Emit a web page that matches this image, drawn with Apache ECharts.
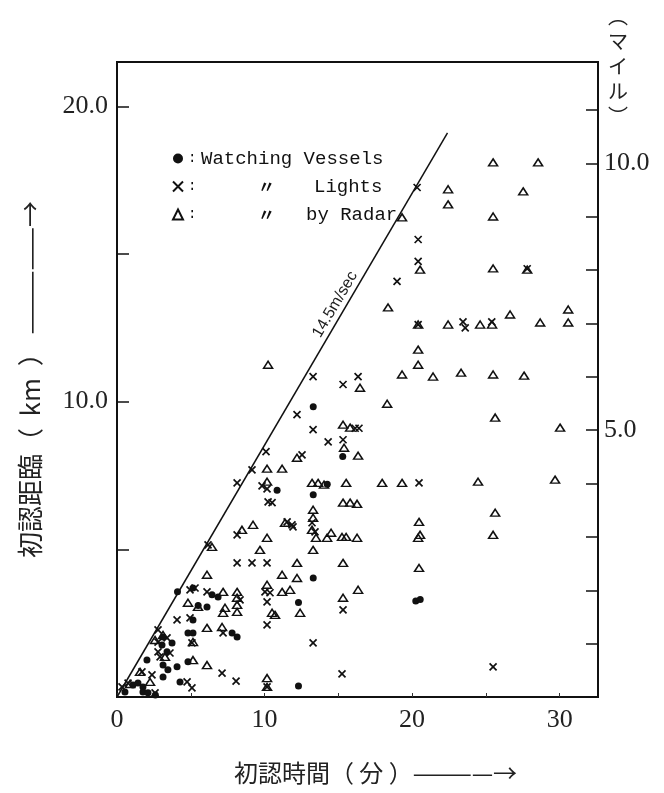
<!DOCTYPE html>
<html><head><meta charset="utf-8">
<script src="https://cdn.jsdelivr.net/npm/echarts@6/dist/echarts.min.js"></script>
<style>html,body{margin:0;padding:0;background:#fff}#c{width:664px;height:793px}</style>
</head><body><div id="c"></div>
<script>
// ---- data (x: minutes, y: km) ----
const seriesNames = ['Watching Vessels', 'Lights', 'by Radar'];
const xTickLabels = ['0', '10', '20', '30'];
const yTickLabels = ['10.0', '20.0'];
const rightTickLabels = ['5.0', '10.0'];
const speedLine = [[0, 0], [22.4, 19.1]];
const speedLabel = '14.5m/sec';

const watchingVessels = [
  [4.1,3.56],[5.15,3.69],[6.44,3.46],[6.85,3.39],[6.1,3.05],[5.5,3.1],
  [5.15,2.61],[7.8,2.17],[8.14,2.03],[4.81,2.17],[5.15,2.17],
  [3.12,2.03],[3.73,1.83],[3.05,1.76],[3.39,1.53],[2.03,1.25],[4.81,1.19],[3.12,1.08],[4.07,1.02],[3.45,0.92],
  [3.12,0.68],[4.27,0.51],[1.08,0.41],[1.42,0.47],[1.76,0.34],[0.54,0.17],[1.76,0.17],[2.1,0.14],[2.6,0.07],
  [10.85,7.0],[13.3,9.83],[15.3,8.14],[13.3,6.85],[14.25,7.2],[13.3,4.03],[12.3,3.2],[12.3,0.37],[20.25,3.25],[20.55,3.3]
];

const lights = [
  [20.34,17.25],[20.41,15.49],[20.41,14.75],[18.98,14.07],[20.41,12.61],[23.45,12.7],[23.6,12.5],[25.4,12.7],[27.8,14.5],
  [16.34,10.85],[13.29,10.85],[15.32,10.58],[12.2,9.56],[13.29,9.05],[16.14,9.1],[16.4,9.1],[14.31,8.64],[15.32,8.71],
  [10.1,8.31],[12.54,8.2],[9.15,7.69],[8.14,7.25],[9.83,7.15],[10.17,7.05],[20.47,7.25],[10.24,6.61],[10.51,6.58],
  [11.53,5.93],[11.86,5.83],[11.93,5.76],[13.22,5.9],[13.42,5.59],[6.17,5.15],[8.14,5.49],
  [8.14,4.54],[9.15,4.54],[10.17,4.54],[10.03,3.56],[10.37,3.53],[8.34,3.29],[10.17,3.22],[10.17,2.44],
  [15.32,2.95],[13.29,1.83],[15.25,0.78],[25.49,1.02],[7.12,0.81],[8.07,0.54],[10.17,0.34],
  [4.95,3.63],[5.29,3.69],[6.1,3.56],[4.07,2.61],[4.95,2.68],[7.19,2.17],[2.78,2.27],[3.39,2.0],[2.78,1.86],[5.08,1.83],
  [2.78,1.53],[3.59,1.49],[2.92,1.36],[1.69,0.85],[2.37,0.75],[4.75,0.51],[5.08,0.31],[0.75,0.47],[0.34,0.34],[2.58,0.14]
];

const byRadar = [
  [25.49,18.1],[28.54,18.1],[22.44,17.19],[27.53,17.12],[22.44,16.68],[19.32,16.24],[25.49,16.27],
  [20.54,14.47],[25.49,14.51],[27.8,14.47],[18.37,13.19],
  [20.41,12.61],[22.44,12.61],[24.61,12.61],[25.42,12.61],[26.64,12.95],[28.68,12.68],[30.58,13.12],[30.58,12.68],
  [20.41,11.76],[20.41,11.25],[19.32,10.92],[21.42,10.85],[23.32,10.98],[25.49,10.92],[27.59,10.88],
  [16.47,10.47],[18.31,9.93],[25.63,9.46],[30.03,9.12],[15.8,9.12],[15.32,9.22],[16.34,8.17],[15.39,8.44],[10.24,11.25],
  [17.97,7.25],[19.32,7.25],[24.47,7.29],[29.69,7.36],[16.27,6.54],[25.63,6.24],[20.47,5.93],[20.54,5.49],[20.41,5.39],
  [25.49,5.49],[20.47,4.37],
  [12.2,8.1],[10.17,7.73],[11.19,7.73],[10.17,7.29],[13.22,7.25],[13.63,7.25],[14.03,7.19],[15.53,7.25],
  [15.32,6.58],[15.8,6.58],[13.29,6.34],[13.29,6.07],[9.22,5.83],[11.39,5.9],[13.22,5.66],[13.49,5.39],[14.51,5.56],
  [15.25,5.42],[15.53,5.42],[16.27,5.39],[6.44,5.08],[8.47,5.66],[10.17,5.39],[14.24,5.39],[13.29,4.98],[9.69,4.98],
  [12.2,4.54],[15.32,4.54],[6.1,4.14],[11.19,4.14],[12.2,4.03],[10.17,3.8],[11.19,3.56],[11.73,3.63],[15.32,3.36],[16.34,3.63],
  [10.51,2.85],[10.71,2.78],[12.41,2.85],[10.17,0.64],[10.17,0.34],
  [7.19,3.56],[8.14,3.56],[8.14,3.36],[8.14,3.12],[4.81,3.19],[5.49,3.05],[7.32,3.02],[7.19,2.85],[8.14,2.88],
  [6.1,2.34],[7.12,2.37],[5.15,1.86],[5.15,1.25],[6.1,1.08],[3.25,1.36],[3.12,2.1],[2.58,1.93],[1.56,0.85],[0.88,0.44],[2.24,0.51]
];

const chart = echarts.init(document.getElementById('c'));
const numFont = "'Liberation Serif', serif";
const cjkFont = "'Noto Sans CJK JP', sans-serif";
const monoFont = "'Liberation Mono', monospace";

const option = {
  animation: false,
  backgroundColor: '#fff',
  grid: { left: 117, right: 66, top: 62, bottom: 96, outerBoundsMode: 'none', containLabel: false,
          show: true, borderColor: '#111', borderWidth: 2, backgroundColor: 'transparent' },
  legend: {
    data: seriesNames,
    orient: 'vertical',
    left: 167, top: 144,
    itemGap: 9, itemWidth: 10, itemHeight: 10,
    selectedMode: false,
    formatter: function (name) {
      if (name === seriesNames[0]) return '{c0|:}{t|' + name + '}';
      if (name === seriesNames[1]) return '{c1|:}{d1|〃}{t|' + name + '}';
      return '{c1|:}{d2|〃}{t|' + name + '}';
    },
    textStyle: {
      color: '#111', fontFamily: monoFont, fontSize: 19,
      rich: {
        c0: { width: 13, fontFamily: monoFont, fontSize: 14, color: '#111' },
        c1: { width: 70, fontFamily: monoFont, fontSize: 14, color: '#111' },
        d1: { width: 56, fontFamily: cjkFont, fontSize: 17, fontWeight: 'bold', color: '#111' },
        d2: { width: 48, fontFamily: cjkFont, fontSize: 17, fontWeight: 'bold', color: '#111' },
        t: { fontFamily: monoFont, fontSize: 19, color: '#111' }
      }
    }
  },
  xAxis: {
    type: 'value', min: 0, max: 32.6, interval: 5,
    name: '初認時間（ 分 ）————→', nameLocation: 'middle', nameGap: 64,
    nameTextStyle: { fontFamily: cjkFont, fontSize: 24, color: '#222', padding: [0, 0, 0, 36] },
    axisLine: { show: true, lineStyle: { color: '#111', width: 2 } },
    axisTick: { show: true, inside: true, length: 4, lineStyle: { color: '#333', width: 1 } },
    axisLabel: {
      margin: 10, fontFamily: numFont, fontSize: 26, color: '#222',
      formatter: v => (xTickLabels.indexOf(String(v)) >= 0 ? String(v) : ''),
      showMaxLabel: false
    },
    splitLine: { show: false }
  },
  yAxis: [
    {
      type: 'value', min: 0, max: 21.5, interval: 5, position: 'left',
      name: '初認距臨（  km  ） —————→', nameLocation: 'middle', nameGap: 74, nameRotate: 90,
      nameTextStyle: { fontFamily: cjkFont, fontSize: 26, color: '#222', padding: [0, 0, 0, 0] },
      axisLine: { show: true, lineStyle: { color: '#111', width: 2 } },
      axisTick: { show: true, inside: true, length: 12, lineStyle: { color: '#111', width: 1.5 } },
      axisLabel: {
        margin: 9, fontFamily: numFont, fontSize: 26, color: '#222',
        formatter: v => { const s = v.toFixed(1); return yTickLabels.indexOf(s) >= 0 ? s : ''; },
        showMaxLabel: false
      },
      splitLine: { show: false }
    },
    {
      type: 'value', min: 0, max: 11.9, interval: 1, position: 'right',
      axisLine: { show: true, lineStyle: { color: '#111', width: 2 } },
      axisTick: { show: true, inside: true, length: 12, lineStyle: { color: '#111', width: 1.5 } },
      axisLabel: {
        margin: 6, fontFamily: numFont, fontSize: 26, color: '#222',
        formatter: v => { const s = v.toFixed(1); return rightTickLabels.indexOf(s) >= 0 ? s : ''; },
        showMaxLabel: false
      },
      splitLine: { show: false }
    }
  ],
  series: [
    {
      name: seriesNames[0], type: 'scatter', data: watchingVessels,
      symbol: 'circle', symbolSize: 7,
      itemStyle: { color: '#111', opacity: 1 }
    },
    {
      name: seriesNames[1], type: 'scatter', data: lights,
      symbol: 'path://M0,0L10,10M10,0L0,10', symbolSize: 7,
      itemStyle: { color: '#111', borderColor: '#111', borderWidth: 1.7, opacity: 1 }
    },
    {
      name: seriesNames[2], type: 'scatter', data: byRadar,
      symbol: 'triangle', symbolSize: [9, 7],
      itemStyle: { color: 'rgba(255,255,255,0)', borderColor: '#111', borderWidth: 1.5, opacity: 1 }
    },
    {
      name: 'speed', type: 'line', data: speedLine, symbol: 'none', silent: true,
      lineStyle: { color: '#111', width: 1.5 }
    }
  ],
  graphic: [
    {
      type: 'text', left: 608, top: 4,
      style: { text: '︵\nマ\nイ\nル\n︶', fontFamily: cjkFont, fontSize: 20, lineHeight: 25, fill: '#222', align: 'center' }
    }
  ]
};
chart.setOption(option);

// rotated label along the speed line
const p0 = chart.convertToPixel({ gridIndex: 0 }, speedLine[0]);
const p1 = chart.convertToPixel({ gridIndex: 0 }, speedLine[1]);
const ang = Math.atan2(p0[1] - p1[1], p1[0] - p0[0]);
const lp = chart.convertToPixel({ gridIndex: 0 }, [14.78, 13.29]);
chart.setOption({
  graphic: [
    option.graphic[0],
    {
      type: 'text', x: lp[0], y: lp[1], rotation: ang,
      style: { text: speedLabel, fontFamily: "'Liberation Sans', sans-serif", fontSize: 16, fill: '#222', align: 'center', verticalAlign: 'middle' }
    }
  ]
});
</script></body></html>
